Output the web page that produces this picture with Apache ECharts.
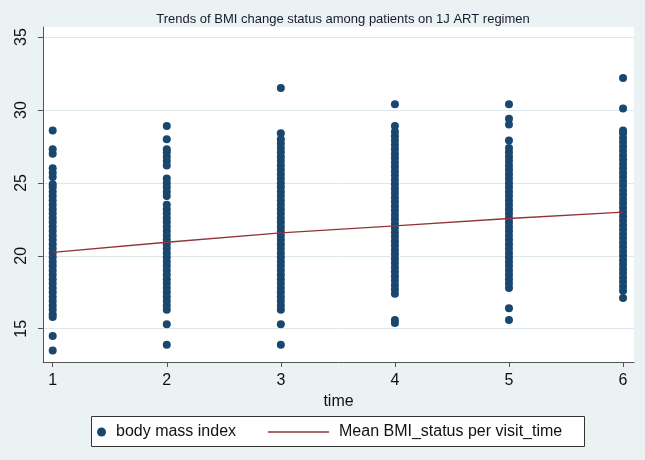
<!DOCTYPE html>
<html>
<head>
<meta charset="utf-8">
<script src="https://cdn.jsdelivr.net/npm/echarts@6/dist/echarts.min.js"></script>
<style>
html,body{margin:0;padding:0;background:#eaf2f3;}
#c{width:645px;height:460px;}
</style>
</head>
<body>
<div id="c"></div>
<script>
// ---- data ----
const times = [1, 2, 3, 4, 5, 6];
const yTicks = [15, 20, 25, 30, 35];
const bmiTime1 = [13.5, 14.5, 15.8, 16.0, 16.3, 16.6, 16.9, 17.2, 17.5, 17.8, 18.1, 18.4, 18.7, 19.0, 19.3, 19.6, 19.9, 20.2, 20.5, 20.8, 21.1, 21.4, 21.7, 22.0, 22.3, 22.6, 22.9, 23.2, 23.5, 23.8, 24.1, 24.4, 24.7, 24.9, 25.4, 25.7, 26.0, 27.0, 27.3, 28.6];
const bmiTime2 = [13.9, 15.3, 16.3, 16.6, 16.9, 17.2, 17.5, 17.8, 18.1, 18.4, 18.7, 19.0, 19.3, 19.6, 19.9, 20.2, 20.5, 20.8, 21.1, 21.4, 21.7, 22.0, 22.3, 22.6, 22.9, 23.2, 23.5, 24.1, 24.4, 24.7, 25.0, 25.3, 26.2, 26.5, 26.8, 27.1, 27.3, 28.0, 28.9];
const bmiTime3 = [13.9, 15.3, 16.3, 16.6, 16.9, 17.2, 17.5, 17.8, 18.1, 18.4, 18.7, 19.0, 19.3, 19.6, 19.9, 20.2, 20.5, 20.8, 21.1, 21.4, 21.7, 22.0, 22.3, 22.6, 22.9, 23.2, 23.5, 23.8, 24.1, 24.4, 24.7, 25.0, 25.3, 25.6, 25.9, 26.2, 26.5, 26.8, 27.1, 27.4, 27.7, 28.0, 28.4, 31.5];
const bmiTime4 = [15.4, 15.6, 17.4, 17.7, 18.0, 18.3, 18.6, 18.9, 19.2, 19.5, 19.8, 20.1, 20.4, 20.7, 21.0, 21.3, 21.6, 21.9, 22.2, 22.5, 22.8, 23.1, 23.4, 23.7, 24.0, 24.3, 24.6, 24.9, 25.2, 25.5, 25.8, 26.1, 26.4, 26.7, 27.0, 27.3, 27.6, 27.9, 28.2, 28.5, 28.9, 30.4];
const bmiTime5 = [15.6, 16.4, 17.8, 18.1, 18.4, 18.7, 19.0, 19.3, 19.6, 19.9, 20.2, 20.5, 20.8, 21.1, 21.4, 21.7, 22.0, 22.3, 22.6, 22.9, 23.2, 23.5, 23.8, 24.1, 24.4, 24.7, 25.0, 25.3, 25.6, 25.9, 26.2, 26.5, 26.8, 27.1, 27.4, 27.9, 29.0, 29.4, 30.4];
const bmiTime6 = [17.1, 17.6, 17.9, 18.2, 18.5, 18.8, 19.1, 19.4, 19.7, 20.0, 20.3, 20.6, 20.9, 21.2, 21.5, 21.8, 22.1, 22.4, 22.7, 23.0, 23.3, 23.6, 23.9, 24.2, 24.5, 24.8, 25.1, 25.4, 25.7, 26.0, 26.3, 26.6, 26.9, 27.2, 27.5, 27.8, 28.1, 28.4, 28.6, 30.1, 32.2];
const meanBmi = [20.23, 20.93, 21.57, 22.06, 22.56, 23.0];

const bmiByTime = [bmiTime1, bmiTime2, bmiTime3, bmiTime4, bmiTime5, bmiTime6];
const scatterData = [];
bmiByTime.forEach((arr, i) => arr.forEach(v => scatterData.push([times[i], v])));
const lineData = times.map((t, i) => [t, meanBmi[i]]);

const FONT = '"Liberation Sans", Arial, sans-serif';
const chart = echarts.init(document.getElementById('c'), null, {renderer: 'canvas'});
chart.setOption({
  backgroundColor: '#eaf2f3',
  animation: false,
  title: {
    text: 'Trends of BMI change status among patients on 1J ART regimen',
    left: 338, top: 8, textAlign: 'center',
    textStyle: {fontFamily: FONT, fontSize: 13, fontWeight: 'normal', color: '#1a1a2e'}
  },
  grid: {
    left: 43, right: 11, top: 27, bottom: 98,
    show: true, backgroundColor: '#ffffff', borderWidth: 0
  },
  xAxis: {
    type: 'value', min: 0.915, max: 6.096,
    name: 'time', nameLocation: 'middle', nameGap: 29,
    nameTextStyle: {fontFamily: FONT, fontSize: 16, color: '#111'},
    axisLine: {show: true, onZero: false, lineStyle: {color: '#555', width: 1}},
    axisTick: {show: true, length: 5, customValues: times, lineStyle: {color: '#555'}},
    axisLabel: {customValues: times, fontFamily: FONT, fontSize: 16, color: '#111', margin: 11},
    splitLine: {show: false}
  },
  yAxis: {
    type: 'value', min: 12.72, max: 35.69,
    axisLine: {show: true, onZero: false, lineStyle: {color: '#555', width: 1}},
    axisTick: {show: true, length: 5, customValues: yTicks, lineStyle: {color: '#555'}},
    axisLabel: {customValues: yTicks, rotate: 90, fontFamily: FONT, fontSize: 16, color: '#111', margin: 13},
    splitLine: {show: true, lineStyle: {color: '#dce8ed', width: 1}}
  },
  graphic: [{
    type: 'rect', left: 91, top: 416, z: 0,
    shape: {width: 493, height: 30},
    style: {fill: '#ffffff', stroke: '#333', lineWidth: 1}
  }],
  legend: [{
    data: [{name: 'body mass index', icon: 'circle'}],
    left: 97, top: 424, padding: 0, z: 10,
    itemWidth: 9, itemHeight: 9,
    textStyle: {fontFamily: FONT, fontSize: 16, color: '#111', padding: [0, 0, 0, 5]}
  }, {
    data: [{name: 'Mean BMI_status per visit_time', icon: 'rect'}],
    left: 268, top: 424, padding: 0, z: 10,
    itemWidth: 61, itemHeight: 1.5,
    textStyle: {fontFamily: FONT, fontSize: 16, color: '#111', padding: [0, 0, 0, 5]}
  }],
  series: [{
    name: 'body mass index', type: 'scatter', data: scatterData,
    symbol: 'circle', symbolSize: 8, clip: false,
    itemStyle: {color: '#1a476f', opacity: 1}
  }, {
    name: 'Mean BMI_status per visit_time', type: 'line', data: lineData,
    symbol: 'none', itemStyle: {color: '#90353b'},
    lineStyle: {color: '#90353b', width: 1.3}, z: 3
  }]
});
</script>
</body>
</html>
